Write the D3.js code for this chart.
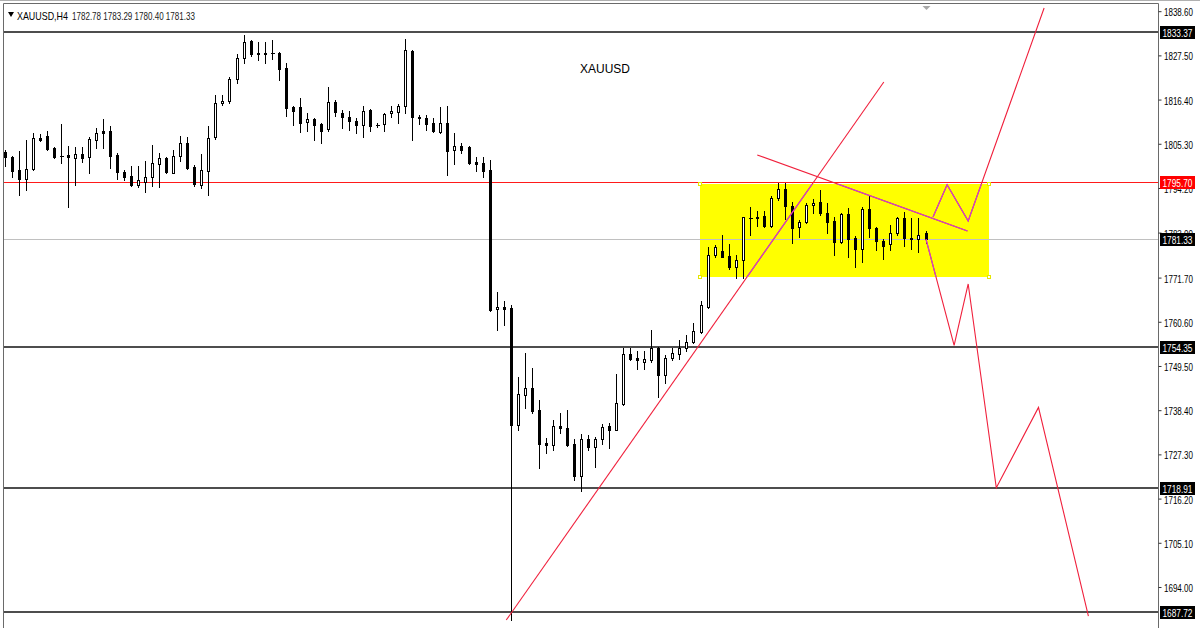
<!DOCTYPE html>
<html><head><meta charset="utf-8">
<script src="https://cdn.jsdelivr.net/npm/d3@7/dist/d3.min.js"></script>
<style>html,body{margin:0;padding:0;background:#fff;overflow:hidden}</style>
</head><body>
<svg id="c" width="1200" height="628"></svg>
<script>
// ---- data ----
const opens=[1803.3,1802.1,1798.7,1796.5,1798.9,1806.8,1807.3,1804.2,1802.3,1802.5,
1801.8,1802.7,1801.9,1806.3,1808.5,1808.5,1802.5,1798.3,1797.3,1795.0,
1795.8,1796.9,1800.1,1801.7,1798.0,1802.2,1805.4,1799.4,1795.0,1798.5,
1807.1,1815.5,1816.0,1821.5,1826.8,1831.1,1828.2,1827.8,1828.2,1828.2,
1824.3,1814.6,1814.5,1810.7,1811.4,1810.2,1808.9,1815.9,1813.1,1812.1,
1811.1,1810.0,1813.8,1810.0,1810.3,1813.0,1813.4,1814.8,1828.6,1812.1,
1811.8,1810.4,1808.3,1810.4,1803.7,1804.7,1804.6,1800.8,1800.4,1798.7,
1763.7,1764.4,1764.0,1734.7,1742.2,1743.9,1738.5,1730.1,1729.7,1734.4,
1733.9,1729.9,1721.9,1731.1,1729.2,1731.1,1734.4,1733.4,1740.0,1752.5,
1751.4,1750.6,1751.0,1753.9,1747.2,1751.4,1752.5,1753.9,1755.6,1758.1,
1764.4,1777.4,1778.5,1777.1,1774.4,1776.1,1786.7,1787.0,1787.2,1784.7,
1791.6,1793.9,1789.7,1784.3,1785.7,1789.9,1790.6,1788.0,1786.0,1780.7,
1787.7,1781.6,1778.8,1788.8,1784.1,1781.0,1780.1,1782.8,1786.6,1781.7,
1781.4,1782.78];
const highs=[1803.7,1802.2,1803.5,1806.3,1808.1,1807.7,1808.5,1804.6,1810.2,1804.7,
1804.4,1804.4,1806.9,1809.2,1811.4,1809.8,1802.9,1798.7,1799.7,1799.7,
1801.1,1805.0,1803.1,1802.1,1803.7,1807.3,1807.1,1800.0,1802.7,1809.8,
1817.6,1817.6,1822.1,1827.8,1832.6,1831.4,1830.9,1830.9,1831.4,1828.4,
1825.5,1814.8,1816.9,1813.1,1811.7,1810.4,1819.5,1816.3,1813.8,1813.5,
1811.7,1814.8,1814.0,1810.6,1813.1,1814.8,1815.3,1831.5,1828.8,1812.5,
1812.5,1811.7,1814.5,1814.8,1808.1,1805.4,1804.7,1802.1,1802.1,1801.2,
1768.2,1765.9,1764.8,1746.8,1752.7,1748.9,1741.0,1731.3,1735.9,1737.8,
1738.5,1731.1,1732.4,1732.2,1731.7,1734.9,1735.1,1747.5,1753.9,1753.9,
1753.3,1753.3,1758.5,1754.3,1752.3,1753.9,1755.9,1757.3,1760.4,1765.9,
1779.5,1779.9,1782.4,1780.1,1777.4,1787.0,1789.3,1788.5,1788.5,1792.2,
1795.4,1795.4,1790.8,1786.2,1790.4,1791.4,1793.7,1790.4,1787.0,1788.0,
1789.1,1782.1,1789.5,1792.4,1784.5,1781.3,1784.9,1787.0,1788.2,1786.6,
1786.6,1783.29];
const lows=[1799.6,1797.0,1792.4,1793.7,1798.7,1806.0,1803.7,1801.7,1800.4,1789.5,
1795.0,1800.6,1798.0,1804.2,1804.2,1799.3,1796.4,1796.2,1794.7,1794.5,
1793.3,1794.7,1794.4,1798.0,1797.9,1801.0,1798.9,1794.7,1794.1,1792.4,
1806.4,1815.0,1815.6,1820.5,1825.5,1827.3,1826.3,1825.7,1826.5,1821.3,
1812.3,1810.0,1808.3,1808.6,1806.3,1805.6,1808.6,1812.3,1809.2,1808.8,
1807.9,1806.9,1808.6,1809.6,1808.6,1812.0,1810.6,1813.0,1806.3,1810.3,
1808.8,1808.3,1808.1,1797.5,1800.2,1803.1,1800.2,1798.5,1797.0,1763.3,
1758.5,1759.8,1685.7,1733.3,1738.9,1737.8,1723.8,1727.7,1728.4,1732.6,
1729.4,1720.9,1718.2,1728.4,1724.1,1729.9,1728.8,1733.3,1739.7,1751.0,
1748.7,1748.7,1750.6,1741.6,1745.3,1751.0,1751.2,1753.3,1755.2,1757.8,
1764.1,1776.9,1776.8,1773.8,1771.5,1771.5,1782.4,1784.7,1784.3,1784.5,
1791.2,1786.3,1780.5,1782.0,1785.3,1787.8,1787.4,1782.8,1777.4,1780.5,
1776.8,1774.3,1775.7,1782.0,1778.6,1776.3,1778.6,1782.4,1779.6,1778.8,
1778.0,1780.40];
const closes=[1801.9,1798.5,1796.5,1798.9,1806.7,1806.3,1803.9,1802.1,1802.2,1801.9,
1802.7,1801.8,1806.4,1808.1,1807.9,1802.2,1798.3,1797.0,1795.0,1796.2,
1797.0,1800.4,1801.7,1798.3,1802.3,1805.4,1799.1,1795.2,1798.7,1806.7,
1815.5,1816.1,1821.5,1826.8,1830.9,1827.8,1827.8,1828.2,1828.1,1824.1,
1814.2,1813.6,1810.6,1811.4,1810.0,1808.6,1815.7,1813.4,1812.0,1811.0,
1810.0,1813.5,1809.8,1810.05,1812.7,1813.5,1814.8,1828.8,1812.0,1811.7,
1810.3,1808.5,1810.4,1803.6,1804.7,1803.7,1800.4,1800.2,1798.5,1763.6,
1764.2,1763.7,1734.7,1742.5,1743.9,1738.3,1729.9,1729.7,1734.4,1733.9,
1729.7,1721.9,1731.1,1729.1,1731.1,1734.1,1733.4,1740.1,1752.5,1751.3,
1751.0,1751.2,1753.9,1747.2,1751.4,1752.8,1753.9,1755.6,1758.4,1764.8,
1777.4,1779.5,1776.9,1774.3,1776.1,1786.8,1786.75,1786.7,1784.7,1791.6,
1793.9,1789.7,1784.1,1785.7,1789.9,1790.5,1787.8,1785.7,1780.7,1787.7,
1781.3,1778.8,1788.8,1784.2,1781.0,1779.6,1782.8,1786.6,1781.6,1781.4,
1782.4,1781.33];

const tickLabels=[1838.60,1827.50,1816.40,1805.30,1794.20,1783.00,1771.70,1760.60,1749.50,1738.40,1727.30,1716.20,1705.10,1694.00,1682.90];
const levelPrices=[1833.37,1754.35,1718.91,1687.72];
const resistPrice=1795.70;
const bidPrice=1781.33;
const tagPrices=[1833.37,1795.70,1781.33,1754.35,1718.91,1687.72];
const tagColors=["#000000","#ff0000","#000000","#000000","#000000","#000000"];
// trend / projection lines as [bar index, price]
const trendUp=[[71.3,1685.7],[125.0,1820.8]];
const trendDown=[[107.0,1802.5],[136.9,1783.4]];
const zigzagUp=[[132,1786.9],[134,1795.0],[137,1785.9],[147.8,1839.4]];
const zigzagDown=[[131,1781.33],[135,1754.7],[137,1770.1],[141,1718.9],[147,1739.1],[154.1,1686.7]];
const boxIdx=[98.9,140.0];
const boxPrice=[1795.2,1771.85];
const symbolText="XAUUSD,H4";
const ohlcText="1782.78 1783.29 1780.40 1781.33";
const titleText="XAUUSD";

// ---- drawing ----
const svg=d3.select("#c");
const x=d3.scaleLinear().domain([0,131]).range([5,926]);
const y=d3.scaleLinear().domain([1833.37,1687.72]).range([32,612]);
const PL=3.5, PR=1158.5, PT=3.5, PB=640;
const FONT="'Liberation Sans',Arial,sans-serif";

// horizontally squeeze a text (placed at tx,ty) so its width equals target, keeping the font height
function squeeze(t, tx, ty, target, size){
  t.attr("font-size",size).attr("x",0).attr("y",0);
  const w=t.node().getComputedTextLength()||target;
  const sx=Math.min(1,target/w);
  t.attr("transform",`translate(${tx},${ty}) scale(${sx},1)`);
}

svg.append("rect").attr("width",1200).attr("height",628).attr("fill","#fff");
const defs=svg.append("defs");
defs.append("clipPath").attr("id","plot").append("rect")
  .attr("x",PL+0.5).attr("y",PT+0.5).attr("width",PR-PL-1).attr("height",PB-PT);
const bx0=x(boxIdx[0]), bx1=x(boxIdx[1]), by0=y(boxPrice[0]), by1=y(boxPrice[1]);
defs.append("clipPath").attr("id","boxclip").append("rect")
  .attr("x",bx0).attr("y",by0).attr("width",bx1-bx0).attr("height",by1-by0);

const plot=svg.append("g").attr("clip-path","url(#plot)");

// yellow rectangle
plot.append("rect").attr("x",Math.round(bx0)).attr("y",Math.round(by0))
  .attr("width",Math.round(bx1-bx0)).attr("height",Math.round(by1-by0)).attr("fill","#ffff00");

// horizontal levels
const crisp=v=>Math.round(v)+0.5;
plot.append("line").attr("x1",PL).attr("x2",PR).attr("y1",crisp(y(bidPrice))).attr("y2",crisp(y(bidPrice)))
  .attr("stroke","#c0c0c0").attr("stroke-width",1);
plot.append("line").attr("x1",PL).attr("x2",PR).attr("y1",crisp(y(resistPrice))).attr("y2",crisp(y(resistPrice)))
  .attr("stroke","#ff1a1a").attr("stroke-width",1);
plot.selectAll("line.lvl").data(levelPrices).join("line").attr("class","lvl")
  .attr("x1",PL).attr("x2",PR).attr("y1",d=>Math.round(y(d))).attr("y2",d=>Math.round(y(d)))
  .attr("stroke","#4d4d4d").attr("stroke-width",2);

// candles
const bars=d3.range(opens.length).map(i=>({i,o:opens[i],h:highs[i],l:lows[i],c:closes[i]}));
const cg=plot.append("g").attr("shape-rendering","crispEdges");
bars.forEach(b=>{
  const cx=Math.floor(x(b.i));
  cg.append("line").attr("x1",cx+0.5).attr("x2",cx+0.5)
    .attr("y1",Math.round(y(b.h))).attr("y2",Math.round(y(b.l))+1).attr("stroke","#000");
  const top=Math.round(y(Math.max(b.o,b.c))), bot=Math.round(y(Math.min(b.o,b.c)));
  const bull=b.c>=b.o;
  if(bot-top<1){
    cg.append("line").attr("x1",cx-1.5).attr("x2",cx+2.5).attr("y1",top+0.5).attr("y2",top+0.5).attr("stroke","#000");
  } else {
    cg.append("rect").attr("x",cx-1+0.5).attr("y",top+0.5).attr("width",2).attr("height",Math.max(1,bot-top))
      .attr("fill",bull?"#fff":"#000").attr("stroke","#000").attr("stroke-width",1);
  }
});

// box corner handles
[[bx0,by0],[bx1,by0],[bx0,by1],[bx1,by1]].forEach(p=>{
  plot.append("rect").attr("x",Math.round(p[0])-1.5).attr("y",Math.round(p[1])-1.5).attr("width",3).attr("height",3)
    .attr("fill","#fff").attr("stroke","#e6e600").attr("stroke-width",1);
});

// trend & projection lines
const lineGen=d3.line().x(d=>x(d[0])).y(d=>y(d[1]));
const paths=[trendUp,trendDown,zigzagUp,zigzagDown];
const lg=plot.append("g");
paths.forEach(p=>lg.append("path").attr("d",lineGen(p)).attr("fill","none").attr("stroke","#f0203c").attr("stroke-width",1.1));
const mg=plot.append("g").attr("clip-path","url(#boxclip)");
paths.forEach(p=>mg.append("path").attr("d",lineGen(p)).attr("fill","none").attr("stroke","#cc44cc").attr("stroke-width",1.2));

// frame
svg.append("line").attr("x1",0).attr("x2",1200).attr("y1",0.5).attr("y2",0.5).attr("stroke","#b0b0b0");
svg.append("path").attr("d",`M${PL},${PB}V${PT}H${PR}V${PB}`).attr("fill","none").attr("stroke","#6a6a6a").attr("stroke-width",1);

// shift marker
const mx=Math.round(x(131))+0.5;
svg.append("path").attr("d",`M${mx-4},6L${mx+4},6L${mx},10Z`).attr("fill","#a8a8a8");

// right axis
const axis=d3.axisRight(y).tickValues(tickLabels).tickFormat(d3.format(".2f")).tickSize(3).tickPadding(3);
const ag=svg.append("g").attr("transform",`translate(${PR},0)`).call(axis);
ag.select(".domain").remove();
ag.selectAll(".tick line").attr("stroke","#333");
ag.selectAll(".tick text").attr("font-family",FONT).attr("fill","#000").attr("dy",null)
  .each(function(){ squeeze(d3.select(this),5.5,4.5,29,10.5); });

// price tags
const tg=svg.append("g");
tagPrices.forEach((p,k)=>{
  const yy=Math.round(y(p));
  tg.append("rect").attr("x",1160).attr("y",yy-6).attr("width",35).attr("height",13).attr("fill",tagColors[k]);
  const t=tg.append("text").attr("font-family",FONT).attr("fill","#fff").text(d3.format(".2f")(p));
  squeeze(t,1162.5,yy+4.5,30,10.5);
});

// header
svg.append("path").attr("d","M8,12L14,12L11,17Z").attr("fill","#000");
const h1=svg.append("text").attr("font-family",FONT).attr("fill","#000").text(symbolText);
squeeze(h1,17,19.5,51,10.5);
const h2=svg.append("text").attr("font-family",FONT).attr("fill","#1a1a1a").text(ohlcText);
squeeze(h2,72,19.5,123,10.5);
const tt=svg.append("text").attr("text-anchor","middle").attr("font-family",FONT).attr("fill","#000").text(titleText);
squeeze(tt,605,73,50,13);
</script>
</body></html>
